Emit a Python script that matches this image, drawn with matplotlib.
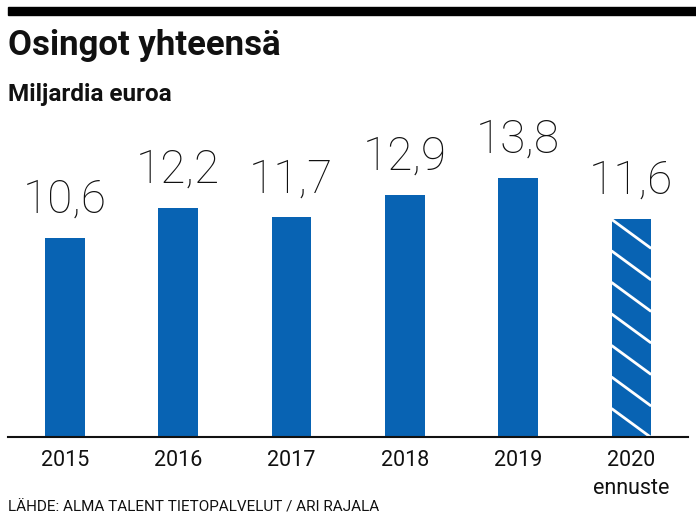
import matplotlib
matplotlib.use("Agg")
import matplotlib.pyplot as plt

years = ["2015", "2016", "2017", "2018", "2019", "2020\nennuste"]
values = [10.6, 12.2, 11.7, 12.9, 13.8, 11.6]
labels = ["10,6", "12,2", "11,7", "12,9", "13,8", "11,6"]
forecast = [False, False, False, False, False, True]

blue = "#0863b3"

fig = plt.figure(figsize=(6.96, 5.22), dpi=100)
# axes placed in pixels: left 8, right 688, baseline 437, top 130
ax = fig.add_axes([8 / 696, 1 - 437 / 522, 680 / 696, 307 / 522])

xs = list(range(len(years)))
bars = ax.bar(xs, values, width=0.35, color=blue, linewidth=0)

ax.set_xlim(-0.5, 5.5)
ax.set_ylim(0, 16.36)

# diagonal white stripes on the forecast bar
for b, f in zip(bars, forecast):
    if not f:
        continue
    x0, w, top = b.get_x(), b.get_width(), b.get_height()
    step = 1.68
    drop = 1.55
    y = top
    while y > -drop:
        ln, = ax.plot([x0, x0 + w], [y, y - drop], color="white", lw=2.0,
                      solid_capstyle="butt")
        ln.set_clip_path(b)
        y -= step

for x, v, t in zip(xs, values, labels):
    ax.text(x, v + 1.35, t, ha="center", va="baseline", fontsize=33,
            family="Roboto", fontweight="light", color="#111111")

for s in ["top", "right", "left"]:
    ax.spines[s].set_visible(False)
ax.spines["bottom"].set_linewidth(1.5)
ax.spines["bottom"].set_color("#111111")
ax.set_yticks([])
ax.set_xticks(xs)
ax.set_xticklabels(years, fontsize=15.5, family="Roboto", color="#111111",
                   linespacing=1.45)
ax.tick_params(axis="x", length=0, pad=9)

# top rule
fig.patches.append(plt.Rectangle((8 / 696, 1 - 15 / 522), 688 / 696, 8 / 522,
                                 transform=fig.transFigure, color="black"))

fig.text(8 / 696, 1 - 46 / 522, "Osingot yhteensä", fontsize=25, fontweight="bold",
         family="Roboto", va="center", ha="left", color="#111111")
fig.text(8 / 696, 1 - 95 / 522, "Miljardia euroa", fontsize=17.5, fontweight="bold",
         family="Roboto", va="center", ha="left", color="#111111")
fig.text(8 / 696, 1 - 508 / 522, "LÄHDE: ALMA TALENT TIETOPALVELUT / ARI RAJALA",
         fontsize=11, family="Roboto", va="center", ha="left", color="#111111")

fig.savefig("out.png", dpi=100)
